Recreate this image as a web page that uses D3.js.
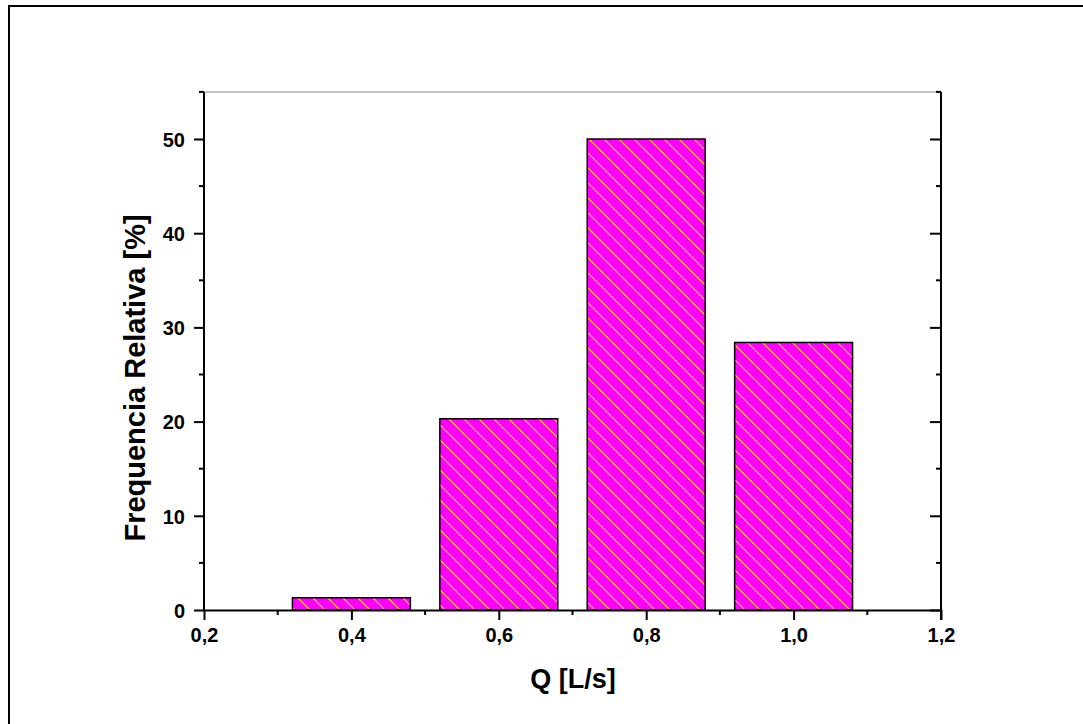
<!DOCTYPE html>
<html><head><meta charset="utf-8">
<script src="https://cdn.jsdelivr.net/npm/d3@7"></script>
<style>body{margin:0;background:#fff}svg{display:block}text{font-family:"Liberation Sans",Arial,sans-serif;font-weight:bold}</style>
</head><body><svg id="c" width="1083" height="724"></svg>
<script>
const categories = [0.4, 0.6, 0.8, 1.0];
const values = [1.3, 20.3, 50.0, 28.4];
const xTicks = [0.2, 0.4, 0.6, 0.8, 1.0, 1.2];
const xMinor = [0.3, 0.5, 0.7, 0.9, 1.1];
const yTicks = [0, 10, 20, 30, 40, 50];
const yMinor = [5, 15, 25, 35, 45, 55];
const barWidth = 0.16;

const svg = d3.select("#c");
const L = 204, R = 941, T = 92, B = 610;
const x = d3.scaleLinear().domain([0.2, 1.2]).range([L, R]);
const y = d3.scaleLinear().domain([0, 55]).range([B, B - 55 * 9.42]);
const fmt = d => d3.format(".1f")(d).replace(".", ",");

// outer frame
svg.append("rect").attr("x", 9).attr("y", 6).attr("width", 1200).attr("height", 800)
  .attr("fill", "none").attr("stroke", "#000").attr("stroke-width", 2);

// pattern
const defs = svg.append("defs");
const pat = defs.append("pattern").attr("id", "hatch").attr("patternUnits", "userSpaceOnUse")
  .attr("width", 15).attr("height", 15);
pat.append("rect").attr("width", 15).attr("height", 15).attr("fill", "#FF00FF");
pat.append("path").attr("d", "M-1,-1 L16,16 M-16,-1 L1,16 M14,-1 L31,16")
  .attr("stroke", "#FFE600").attr("stroke-width", 1.1);

// bars
svg.selectAll("rect.bar").data(categories).enter().append("rect").attr("class", "bar")
  .attr("x", d => x(d - barWidth / 2)).attr("width", d => x(d + barWidth / 2) - x(d - barWidth / 2))
  .attr("y", (d, i) => y(values[i])).attr("height", (d, i) => y(0) - y(values[i]))
  .attr("fill", "url(#hatch)").attr("stroke", "#000").attr("stroke-width", 1.5);

// top axis (thin gray)
svg.append("line").attr("x1", L).attr("x2", R).attr("y1", T).attr("y2", T).attr("stroke", "#888").attr("stroke-width", 1);

// bottom axis
const gx = svg.append("g").attr("transform", `translate(0,${B})`)
  .call(d3.axisBottom(x).tickValues(xTicks).tickFormat(fmt).tickSize(10).tickSizeOuter(0));
gx.select(".domain").attr("stroke-width", 2);
gx.selectAll(".tick line").attr("stroke-width", 2);
gx.selectAll(".tick text").attr("font-size", 20).attr("y", 32).attr("dy", 0).attr("fill", "#000");
gx.selectAll(".minor").data(xMinor).enter().append("line")
  .attr("x1", d => x(d)).attr("x2", d => x(d)).attr("y1", 0).attr("y2", 5).attr("stroke", "#000").attr("stroke-width", 2);

// left axis
const gy = svg.append("g").attr("transform", `translate(${L},0)`)
  .call(d3.axisLeft(y).tickValues(yTicks).tickSize(10).tickSizeOuter(0));
gy.select(".domain").attr("stroke-width", 2).attr("d", `M0,${B}V${T}`);
gy.selectAll(".tick line").attr("stroke-width", 2);
gy.selectAll(".tick text").attr("font-size", 20).attr("x", -19).attr("dy", "0.36em").attr("fill", "#000");
gy.selectAll(".minor").data(yMinor).enter().append("line")
  .attr("x1", 0).attr("x2", -5).attr("y1", d => y(d)).attr("y2", d => y(d)).attr("stroke", "#000").attr("stroke-width", 2);

// right axis
const gr = svg.append("g").attr("transform", `translate(${R},0)`)
  .call(d3.axisLeft(y).tickValues(yTicks).tickSize(11).tickFormat("").tickSizeOuter(0));
gr.select(".domain").attr("stroke-width", 2).attr("d", `M0,${B + 10}V${T}`);
gr.selectAll(".tick line").attr("stroke-width", 2);
gr.selectAll(".minor").data(yMinor).enter().append("line")
  .attr("x1", 0).attr("x2", -5).attr("y1", d => y(d)).attr("y2", d => y(d)).attr("stroke", "#000").attr("stroke-width", 2);

// titles
svg.append("text").attr("x", 573).attr("y", 688).attr("text-anchor", "middle")
  .attr("font-size", 27).text("Q [L/s]");
svg.append("text").attr("transform", `translate(145,378) rotate(-90)`).attr("text-anchor", "middle")
  .attr("font-size", 29).text("Frequencia Relativa [%]");
</script></body></html>
